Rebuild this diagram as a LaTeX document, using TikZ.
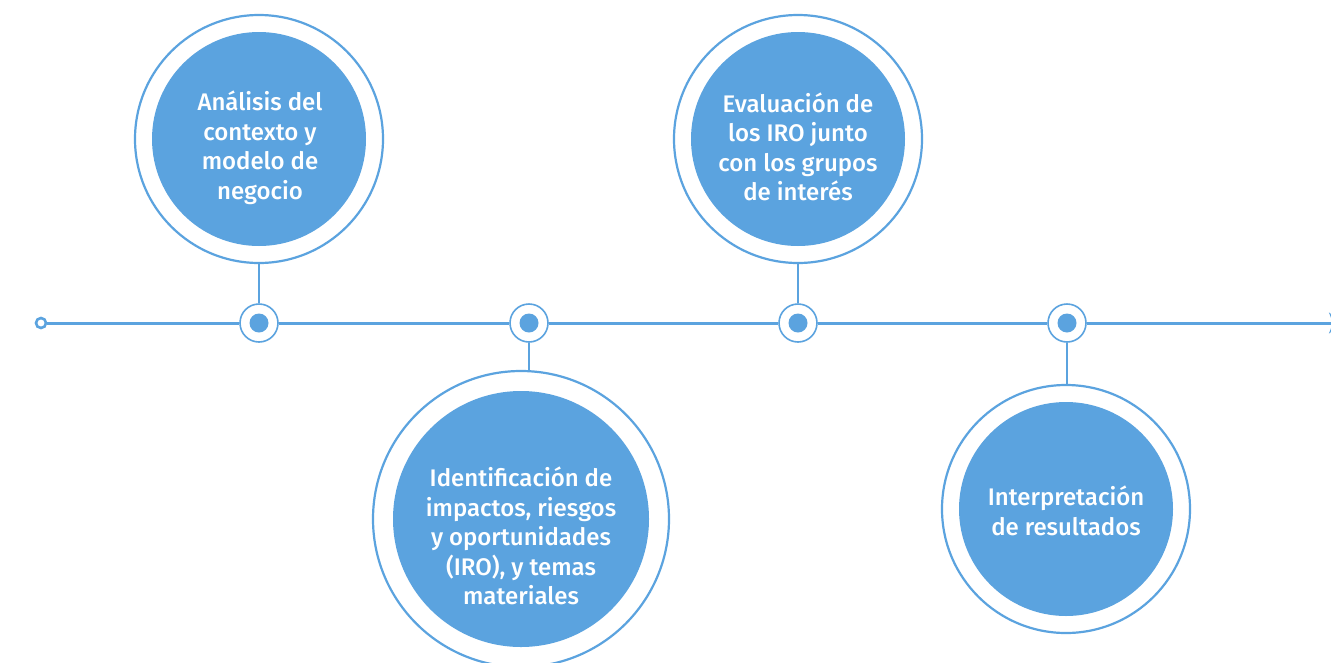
\documentclass[tikz,border=0pt]{standalone}
\usepackage{fontspec}
\setmainfont{Fira Sans Medium}
\usetikzlibrary{arrows.meta}
\definecolor{tlblue}{RGB}{91,163,223}
\begin{document}
\begin{tikzpicture}[x=1pt,y=-1pt,
  bigout/.style={circle,draw=tlblue,line width=2.2pt,fill=white,minimum size=#1,inner sep=0pt},
  bigin/.style={circle,fill=tlblue,minimum size=#1,inner sep=0pt},
  ring/.style={circle,draw=tlblue,line width=1.6pt,fill=white,minimum size=38pt,inner sep=0pt},
  dot/.style={circle,fill=tlblue,minimum size=19pt,inner sep=0pt},
  startc/.style={circle,draw=tlblue,line width=2.6pt,fill=white,minimum size=10pt,inner sep=0pt},
  axis/.style={draw=tlblue,line width=3pt},
  link/.style={draw=tlblue,line width=1.6pt},
  lbl/.style={text=white,align=center,font=\fontsize{24}{29.5}\selectfont}]
\useasboundingbox[fill=white] (0,0) rectangle (1331,662);
% big circles
\node[bigout=248pt] (o1) at (259,139) {};
\node[bigin=214pt] (c1) at (259,139) {};
\node[lbl] (t1) at (260,148) {Análisis del\\contexto y\\modelo de\\negocio};
\node[bigout=296pt] (o2) at (521,519) {};
\node[bigin=256pt] (c2) at (521,519) {};
\node[lbl] (t2) at (521,536) {Identificación de\\impactos, riesgos\\y oportunidades\\(IRO), y temas\\materiales};
\node[bigout=248pt] (o3) at (798,139) {};
\node[bigin=214pt] (c3) at (798,139) {};
\node[lbl] (t3) at (798,147) {Evaluación de\\los IRO junto\\con los grupos\\de interés};
\node[bigout=248pt] (o4) at (1066,509) {};
\node[bigin=214pt] (c4) at (1066,509) {};
\node[lbl] (t4) at (1066,511) {Interpretación\\de resultados};
% timeline
\node[startc] (s) at (41,323) {};
\node[ring] (r1) at (259,323) {};
\node[ring] (r2) at (529,323) {};
\node[ring] (r3) at (798,323) {};
\node[ring] (r4) at (1067,323) {};
\node[dot] (d1) at (r1) {};
\node[dot] (d2) at (r2) {};
\node[dot] (d3) at (r3) {};
\node[dot] (d4) at (r4) {};
\coordinate (e) at (1342,323);
\path[axis] (s) -- (r1) (r1) -- (r2) (r2) -- (r3) (r3) -- (r4);
\draw[axis,-{Stealth[length=13pt,width=21pt,inset=4pt]}] (r4) -- (e);
% connectors
\path[link] (o1) -- (r1);
\path[link] (o3) -- (r3);
\path[link] (r2) -- (r2 |- o2.north);
\path[link] (r4) -- (r4 |- o4.north);
\end{tikzpicture}
\end{document}
